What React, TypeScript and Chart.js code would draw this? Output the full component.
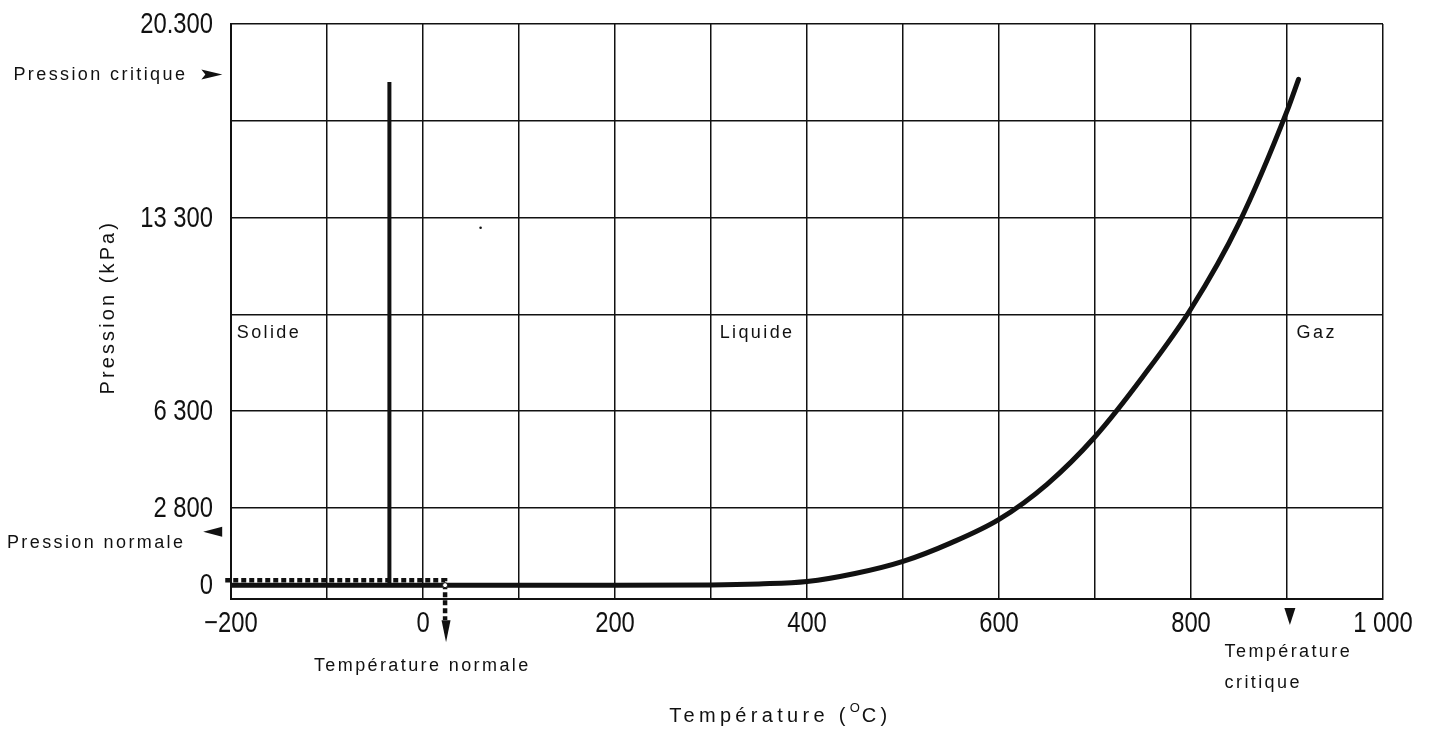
import React, { useEffect, useRef } from "react";
import { Chart, registerables } from "chart.js";

Chart.register(...registerables);

// ---- Data (temperature in °C, pressure in kPa) ----
// Liquid/gas (vapour pressure) curve
const curveTemps = [-200, -100, 0, 100, 200, 300, 350, 400, 450, 500, 550, 600, 650, 700, 750, 800, 850, 900, 912];
const curvePressures = [0, 0, 0, 0, 0, 10, 45, 130, 420, 860, 1530, 2380, 3650, 5370, 7550, 10000, 13100, 17150, 18300];

// Solid/liquid boundary
const fusionTemps = [-35, -35];
const fusionPressures = [0, 18200];

// Dotted guide to the normal conditions
const guideTemps = [-206, -206, 23, 23];
const guidePressures = [2000, 180, 180, -1260];

// Normal point (open marker)
const normalTemps = [23];
const normalPressures = [0];

// Small speck printed in the plot
const speckTemps = [60];
const speckPressures = [12930];

// Axes
const xGridValues = [-200, -100, 0, 100, 200, 300, 400, 500, 600, 700, 800, 900, 1000];
const xTickLabels = ["\u2212200", "", "0", "", "200", "", "400", "", "600", "", "800", "", "1 000"];
const yGridValues = [0, 2800, 6300, 9800, 13300, 16800, 20300];
const yTickLabels = ["0", "2 800", "6 300", "", "13 300", "", "20.300"];

// Annotations (positions in data units)
const textLabels = ["Solide", "Liquide", "Gaz", "Pression critique", "Pression normale", "Température normale", "Température", "critique"];
const textTemps = [-194, 309, 910, -248, -250, -2, 835, 835];
const textPressures = [9130, 9130, 9130, 18470, 1527, -2926, -2419, -3541];
const textAligns = ["left", "left", "left", "right", "right", "center", "left", "left"];

const arrowTemps = [-209, -229, 24, 903];
const arrowPressures = [18470, 1930, -2060, -1440];
const arrowDirs = ["right", "left", "down", "down"];

const xTitleStart = "Température (";
const xTitleSup = "O";
const xTitleEnd = "C)";
const xTitleTemp = 370;
const xTitlePressure = -4736;
const yTitle = "Pression (kPa)";
const yTitleTemp = -328;
const yTitlePressure = 10000;

const INK = "#111";
const TEXT_FONT = "'Liberation Sans', Arial, Helvetica, sans-serif";
const TICK_FONT = `29px 'Liberation Sans', Arial, sans-serif`;
const TICK_CONDENSE = 0.82;

const toXY = (xs: number[], ys: number[]) => xs.map((x, i) => ({ x, y: ys[i] }));

const annotationPlugin = {
  id: "annotations",
  afterDraw(chart: any) {
    const { ctx, scales, chartArea } = chart;
    const xs = scales.x;
    const ys = scales.y;
    ctx.save();
    ctx.fillStyle = INK;
    ctx.textBaseline = "middle";
    ctx.textAlign = "left";

    // condensed tick labels, placed by the scales
    ctx.font = TICK_FONT;
    (ctx as any).letterSpacing = "0px";
    xs.ticks.forEach((t: any) => {
      const i = xGridValues.indexOf(t.value);
      const label = i >= 0 ? xTickLabels[i] : "";
      if (!label) return;
      ctx.save();
      ctx.translate(xs.getPixelForValue(t.value), chartArea.bottom + 25);
      ctx.scale(TICK_CONDENSE, 1);
      ctx.textAlign = "center";
      ctx.fillText(label, 0, 0);
      ctx.restore();
    });
    ys.ticks.forEach((t: any) => {
      const i = yGridValues.indexOf(t.value);
      const label = i >= 0 ? yTickLabels[i] : "";
      if (!label) return;
      ctx.save();
      ctx.translate(chartArea.left - 18, ys.getPixelForValue(t.value) + 1);
      ctx.scale(TICK_CONDENSE, 1);
      ctx.textAlign = "right";
      ctx.fillText(label, 0, 0);
      ctx.restore();
    });
    ctx.textAlign = "left";

    const measure = (text: string, font: string, spacing: number) => {
      ctx.font = font;
      (ctx as any).letterSpacing = spacing + "px";
      return ctx.measureText(text).width - spacing;
    };
    const drawSpaced = (text: string, px: number, py: number, align: string, font: string, spacing: number) => {
      const w = measure(text, font, spacing);
      let left = px;
      if (align === "right") left = px - w;
      else if (align === "center") left = px - w / 2;
      ctx.fillText(text, left, py);
    };

    const labelFont = `18px ${TEXT_FONT}`;
    textLabels.forEach((t, i) => {
      drawSpaced(t, xs.getPixelForValue(textTemps[i]), ys.getPixelForValue(textPressures[i]), textAligns[i], labelFont, 2.4);
    });

    // arrows
    arrowDirs.forEach((d, i) => {
      const tx = xs.getPixelForValue(arrowTemps[i]);
      const ty = ys.getPixelForValue(arrowPressures[i]);
      const ang = d === "right" ? 0 : d === "left" ? Math.PI : d === "down" ? Math.PI / 2 : -Math.PI / 2;
      const len = d === "down" ? (i === 2 ? 22 : 17) : (i === 0 ? 21 : 19);
      const hw = d === "down" ? (i === 2 ? 4.5 : 5.5) : 5;
      const notch = i === 0 ? 4 : 0;
      ctx.save();
      ctx.translate(tx, ty);
      ctx.rotate(ang);
      ctx.beginPath();
      ctx.moveTo(0, 0);
      ctx.lineTo(-len, -hw);
      ctx.lineTo(-len + notch, 0);
      ctx.lineTo(-len, hw);
      ctx.closePath();
      ctx.fill();
      ctx.restore();
    });

    // x title with superscript O
    const tFont = `20px ${TEXT_FONT}`;
    const sFont = `13px ${TEXT_FONT}`;
    const sp = 4.3;
    const w1 = measure(xTitleStart, tFont, sp) + sp;
    const w2 = measure(xTitleSup, sFont, 1) + 2;
    const w3 = measure(xTitleEnd, tFont, sp);
    const cx = xs.getPixelForValue(xTitleTemp);
    const cy = ys.getPixelForValue(xTitlePressure);
    let left = cx - (w1 + w2 + w3) / 2;
    ctx.font = tFont;
    (ctx as any).letterSpacing = sp + "px";
    ctx.fillText(xTitleStart, left, cy);
    left += w1;
    ctx.font = sFont;
    (ctx as any).letterSpacing = "1px";
    ctx.fillText(xTitleSup, left, cy - 8);
    left += w2;
    ctx.font = tFont;
    (ctx as any).letterSpacing = sp + "px";
    ctx.fillText(xTitleEnd, left, cy);

    // y title rotated
    ctx.save();
    ctx.translate(xs.getPixelForValue(yTitleTemp), ys.getPixelForValue(yTitlePressure));
    ctx.rotate(-Math.PI / 2);
    drawSpaced(yTitle, 0, 0, "center", `20px ${TEXT_FONT}`, 3.1);
    ctx.restore();

    ctx.restore();
  },
};

const zeroPadding = (s: any) => {
  s.paddingLeft = 0;
  s.paddingRight = 0;
  s.paddingTop = 0;
  s.paddingBottom = 0;
};

export default function App() {
  const ref = useRef<HTMLCanvasElement>(null);

  useEffect(() => {
    if (!ref.current) return;
    const chart = new Chart(ref.current, {
      type: "line",
      data: {
        datasets: [
          {
            label: "Courbe de vaporisation",
            data: toXY(curveTemps, curvePressures),
            borderColor: INK,
            borderWidth: 5,
            pointRadius: 0,
            cubicInterpolationMode: "monotone",
            borderCapStyle: "round",
            order: 3,
          },
          {
            label: "Fusion",
            data: toXY(fusionTemps, fusionPressures),
            borderColor: INK,
            borderWidth: 4,
            pointRadius: 0,
            borderCapStyle: "butt",
            order: 3,
          },
          {
            label: "Conditions normales",
            data: toXY(guideTemps, guidePressures),
            borderColor: INK,
            borderWidth: 4.5,
            borderDash: [5, 3],
            borderCapStyle: "butt",
            borderJoinStyle: "miter",
            pointRadius: 0,
            clip: false,
            order: 2,
          },
          {
            label: "Point normal",
            data: toXY(normalTemps, normalPressures),
            showLine: false,
            pointRadius: 2.5,
            pointBackgroundColor: "#fff",
            pointBorderColor: INK,
            pointBorderWidth: 1,
            order: 1,
          },
          {
            label: "speck",
            data: toXY(speckTemps, speckPressures),
            showLine: false,
            pointRadius: 1.3,
            pointBackgroundColor: INK,
            pointBorderWidth: 0,
            order: 1,
          },
        ],
      } as any,
      options: {
        animation: false,
        responsive: true,
        maintainAspectRatio: false,
        layout: { padding: { top: 24, right: 48, bottom: 0, left: 0 } },
        plugins: { legend: { display: false }, tooltip: { enabled: false } },
        scales: {
          x: {
            type: "linear",
            min: -200,
            max: 1000,
            afterBuildTicks: (s: any) => {
              s.ticks = xGridValues.map((v) => ({ value: v }));
            },
            afterFit: (s: any) => {
              s.height = 133;
              zeroPadding(s);
            },
            ticks: {
              display: false,
              callback: (v: any) => {
                const i = xGridValues.indexOf(Number(v));
                return i >= 0 ? xTickLabels[i] : "";
              },
            },
            grid: { color: INK, lineWidth: 1.5, drawTicks: false },
            border: { display: true, color: INK, width: 2 },
          },
          y: {
            type: "linear",
            min: -500,
            max: 20300,
            afterBuildTicks: (s: any) => {
              s.ticks = yGridValues.map((v) => ({ value: v }));
            },
            afterFit: (s: any) => {
              s.width = 231;
              zeroPadding(s);
            },
            ticks: {
              display: false,
              callback: (v: any) => {
                const i = yGridValues.indexOf(Number(v));
                return i >= 0 ? yTickLabels[i] : "";
              },
            },
            grid: {
              color: (c: any) => (c.tick && c.tick.value === 0 ? "rgba(0,0,0,0)" : INK),
              lineWidth: 1.5,
              drawTicks: false,
            },
            border: { display: true, color: INK, width: 2 },
          },
        },
      } as any,
      plugins: [annotationPlugin],
    });
    return () => chart.destroy();
  }, []);

  return (
    <div style={{ position: "fixed", left: 0, top: 0, width: 1431, height: 732, background: "#fff" }}>
      <canvas ref={ref} />
    </div>
  );
}
